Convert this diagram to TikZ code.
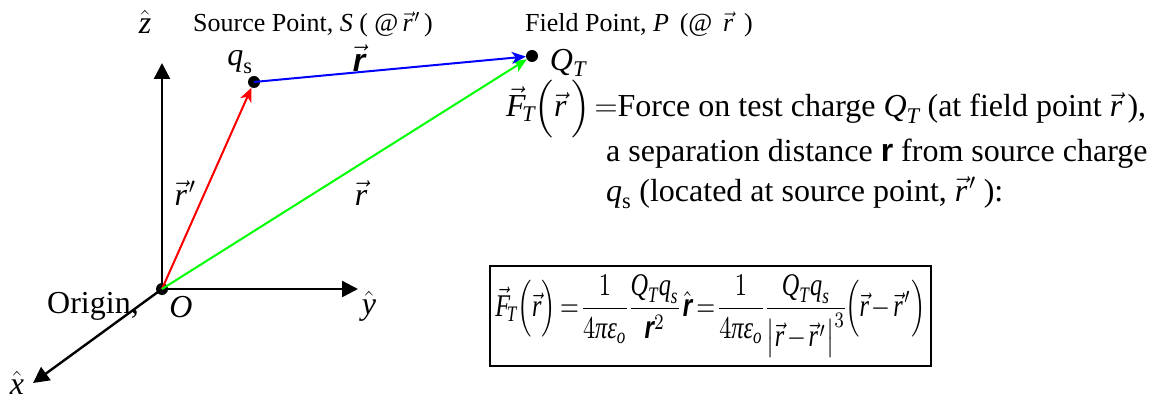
\RequirePackage{fix-cm}
\documentclass[tikz,border=0pt]{standalone}
\usepackage{amsmath,amssymb}
\usepackage{graphicx}
\usepackage{fontspec}
\setmainfont{Liberation Serif}
\newfontfamily\sansf{Liberation Sans}
\usetikzlibrary{arrows.meta}
\newcommand\mi[1]{\text{\itshape #1}}
\newcommand\boldr{\text{\sansf\bfseries\itshape r}}
\newcommand\vr{\vec{\mi r}}
\newcommand\vrp{\vec{\mi r}\mkern1mu'}
\newcommand\fsz[1]{\fontsize{#1}{#1}\selectfont}
\begin{document}
\begin{tikzpicture}[x=1pt,y=-1pt,
  dot/.style={circle,fill=black,inner sep=0pt,minimum size=12pt},
  axis/.style={line width=2.4pt,-{Triangle[width=16pt,length=16pt]}},
  vecarrow/.style={line width=2pt,-{Stealth[width=12pt,length=14pt,inset=4pt]}},
  lbl/.style={inner sep=0pt,font=\rmfamily\fsz{32}},
  small/.style={inner sep=0pt,font=\rmfamily\fsz{26}}]
\path[use as bounding box] (0,0) rectangle (1158,398);
% points
\node[dot] (O) at (162,289) {};
\node[dot] (S) at (254,82) {};
\node[dot] (P) at (532,56) {};
\coordinate (zt) at (162,63);
\coordinate (yt) at (358,289);
\coordinate (xt) at (33,383);
% axes
\draw[axis] (O.center) -- (zt);
\draw[axis] (O.center) -- (yt);
\draw[axis] (O.center) -- (xt);
% vectors
\draw[vecarrow,red] (O.center) -- (S);
\draw[vecarrow,green] (O.center) -- (P);
\draw[vecarrow,blue] (S.center) -- (P);
% labels
\node[lbl] (zh) at (145,22) {$\hat{\mi z}$};
\node[lbl] (yh) at (369,306) {$\hat{\mi y}$};
\node[lbl] (xh) at (17,383) {$\hat{\mi x}$};
\node[small,anchor=base west] (src) at (193,32) {Source Point, \textit{S} ( @\,$\vrp$\,)};
\node[small,anchor=base west] (fld) at (525,32) {Field Point, \textit{P}\,\ (@\ \,$\vr$\ \,)};
\node[lbl] (qs) at (240,62) {$\mi q_{\text{s}}$};
\node[lbl] (QT) at (568,63) {$\mi Q_{\mi T}$};
\node[lbl] (rb) at (359,58) {$\vec{\boldr}$};
\node[lbl] (rp) at (185,193) {$\vrp$};
\node[lbl] (rr) at (361,193) {$\vr$};
\node[lbl] (orig) at (93,306) {Origin,};
\node[lbl] (On) at (181,307) {$\mi O$};
\node[lbl,anchor=base west] (l1) at (506,117) {$\vec{\mi F}_{\!\mi T}\Bigl(\vr\,\Bigr)\!=$Force on test charge $\mi Q_{\mi T}$ (at field point $\vr$\,),};
\node[lbl,anchor=base west] (l2) at (606,162) {a separation distance {\sansf\bfseries r} from source charge};
\node[lbl,anchor=base west] (l3) at (606,201) {$\mi q_{\text{s}}$ (located at source point, $\vrp$\ ):};
\node[draw,line width=2pt,minimum width=441pt,minimum height=100pt,inner sep=0pt] (eq) at (710.5,316)
 {\resizebox{430pt}{!}{\scalebox{1}[1.3]{\thickmuskip=3mu\medmuskip=2mu\nulldelimiterspace=0pt$\displaystyle \vec{\mi F}_{\!\mi T}\Bigl(\vr\Bigr) = \frac{1}{4\mi π\mi ε_{\mi o}}\,\frac{\mi Q_{\mi T}\mi q_{\mi s}}{\boldr^2}\,\hat{\boldr} = \frac{1}{4\mi π\mi ε_{\mi o}}\,\frac{\mi Q_{\mi T}\mi q_{\mi s}}{\bigl|\vr-\vrp\bigr|^3}\Bigl(\vr-\vrp\Bigr)$}}};
\end{tikzpicture}
\end{document}
